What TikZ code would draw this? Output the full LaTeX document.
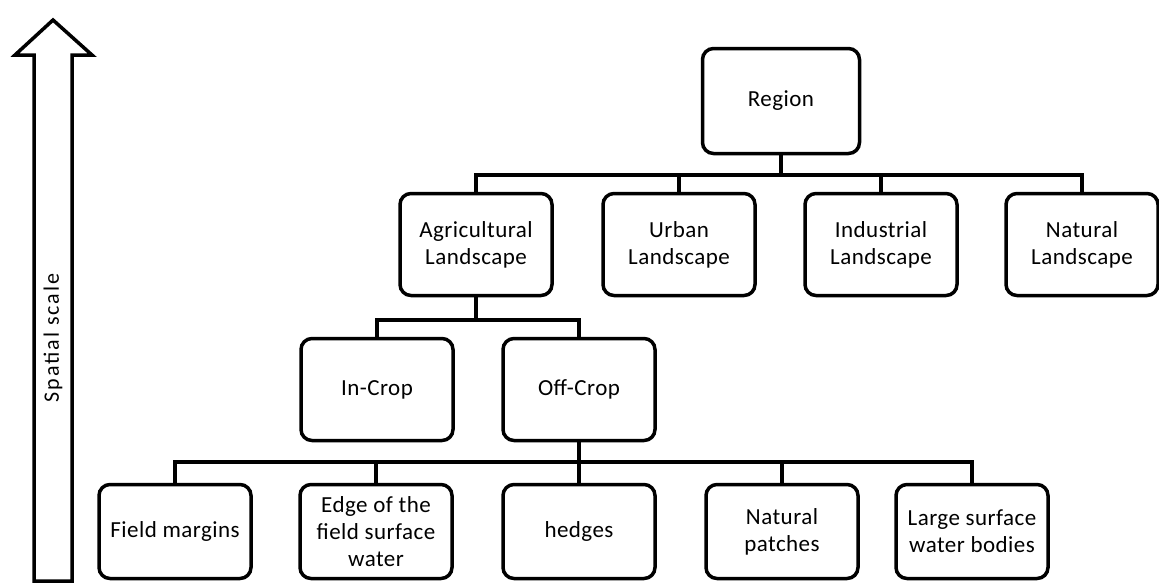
\documentclass[tikz,border=0pt]{standalone}
\usepackage{fontspec}
\setmainfont{Carlito}
\begin{document}
\begin{tikzpicture}[x=1pt,y=-1pt,
    box/.style={draw, line width=3.5pt, rounded corners=11pt,
      minimum width=152pt, minimum height=102pt, align=center,
      inner sep=2pt, font=\fontsize{23}{27}\selectfont\addfontfeatures{LetterSpace=2}},
    lowbox/.style={box, minimum height=94pt},
    link/.style={line width=3.2pt}]
    \useasboundingbox (0,0) rectangle (1159,584);

    % spatial scale arrow
    \draw [line width=3.5pt, line join=miter]
        (34,581) -- (34,55) -- (15,55) -- (53,20) -- (92,55) -- (72,55) -- (72,581) -- cycle;
    \node [rotate=90, font=\fontsize{22}{26}\selectfont\addfontfeatures{LetterSpace=9}]
        (scale) at (53,338) {Spatial scale};

    % boxes
    \node [box, minimum width=157pt, minimum height=105pt] (region) at (781,101) {Region};
    \node [box] (agri) at (476,244.5) {Agricultural\\Landscape};
    \node [box] (urban) at (679,244.5) {Urban\\Landscape};
    \node [box] (indus) at (881,244.5) {Industrial\\Landscape};
    \node [box] (natland) at (1082,244.5) {Natural\\Landscape};
    \node [box] (incrop) at (377,389.5) {In-Crop};
    \node [box] (offcrop) at (579,389.5) {Off-Crop};
    \node [lowbox] (margins) at (175,531.5) {Field margins};
    \node [lowbox] (edge) at (376,531.5) {Edge of the\\field surface\\water};
    \node [lowbox] (hedges) at (579,531.5) {hedges};
    \node [lowbox] (patches) at (782,531.5) {Natural\\patches};
    \node [lowbox] (water) at (972,531.5) {Large surface\\water bodies};

    % connectors
    \coordinate (bus1) at (781,175);
    \coordinate (bus2) at (476,320);
    \coordinate (bus3) at (579,462);
    \draw [link] (region) -- (bus1);
    \draw [link] (agri.north) |- (bus1) -| (natland.north);
    \foreach \n in {urban,indus}
        {\draw [link] (\n.north) -- (\n.north |- bus1);}
    \draw [link] (agri) -- (bus2);
    \draw [link] (incrop.north) |- (bus2) -| (offcrop.north);
    \draw [link] (offcrop) -- (bus3);
    \draw [link] (margins.north) |- (bus3) -| (water.north);
    \foreach \n in {edge,hedges,patches}
        {\draw [link] (\n.north) -- (\n.north |- bus3);}
\end{tikzpicture}
\end{document}
